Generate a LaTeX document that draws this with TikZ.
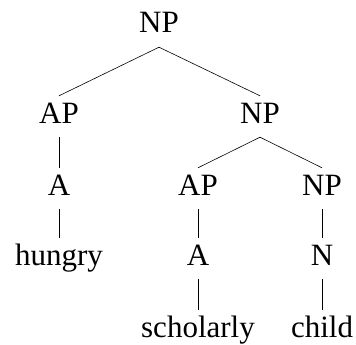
\documentclass[tikz,border=0pt]{standalone}
\usepackage{fontspec}
\setmainfont{Liberation Serif}
\usepackage{tikz}
\tikzstyle{cat} = [anchor=base, inner sep=6pt, text height=21pt, text depth=8pt, font=\fontsize{31}{37}\selectfont]
\tikzstyle{branch} = [line width=0.6pt]

\begin{document}
\begin{tikzpicture}[x=1pt, y=-1pt]
\useasboundingbox (0,0) rectangle (356,345);

% Level 1
\node (np) [cat] at (159,33) {NP};

% Level 2
\node (ap) [cat] at (59,123) {AP};
\node (npr) [cat] at (260,123) {NP};

% Level 3
\node (a) [cat] at (59,195) {A};
\node (ap2) [cat] at (198,195) {AP};
\node (np2) [cat] at (322,195) {NP};

% Level 4
\node (hungry) [cat] at (59,265) {hungry};
\node (a2) [cat] at (198,265) {A};
\node (n) [cat] at (322,265) {N};

% Level 5
\node (scholarly) [cat] at (198,337) {scholarly};
\node (child) [cat] at (322,337) {child};

% Branches
\draw [branch] (np.south) -- (ap.north);
\draw [branch] (np.south) -- (npr.north);
\draw [branch] (ap.south) -- (a.north);
\draw [branch] (a.south) -- (hungry.north);
\draw [branch] (npr.south) -- (ap2.north);
\draw [branch] (npr.south) -- (np2.north);
\draw [branch] (ap2.south) -- (a2.north);
\draw [branch] (a2.south) -- (scholarly.north);
\draw [branch] (np2.south) -- (n.north);
\draw [branch] (n.south) -- (child.north);

\end{tikzpicture}
\end{document}
